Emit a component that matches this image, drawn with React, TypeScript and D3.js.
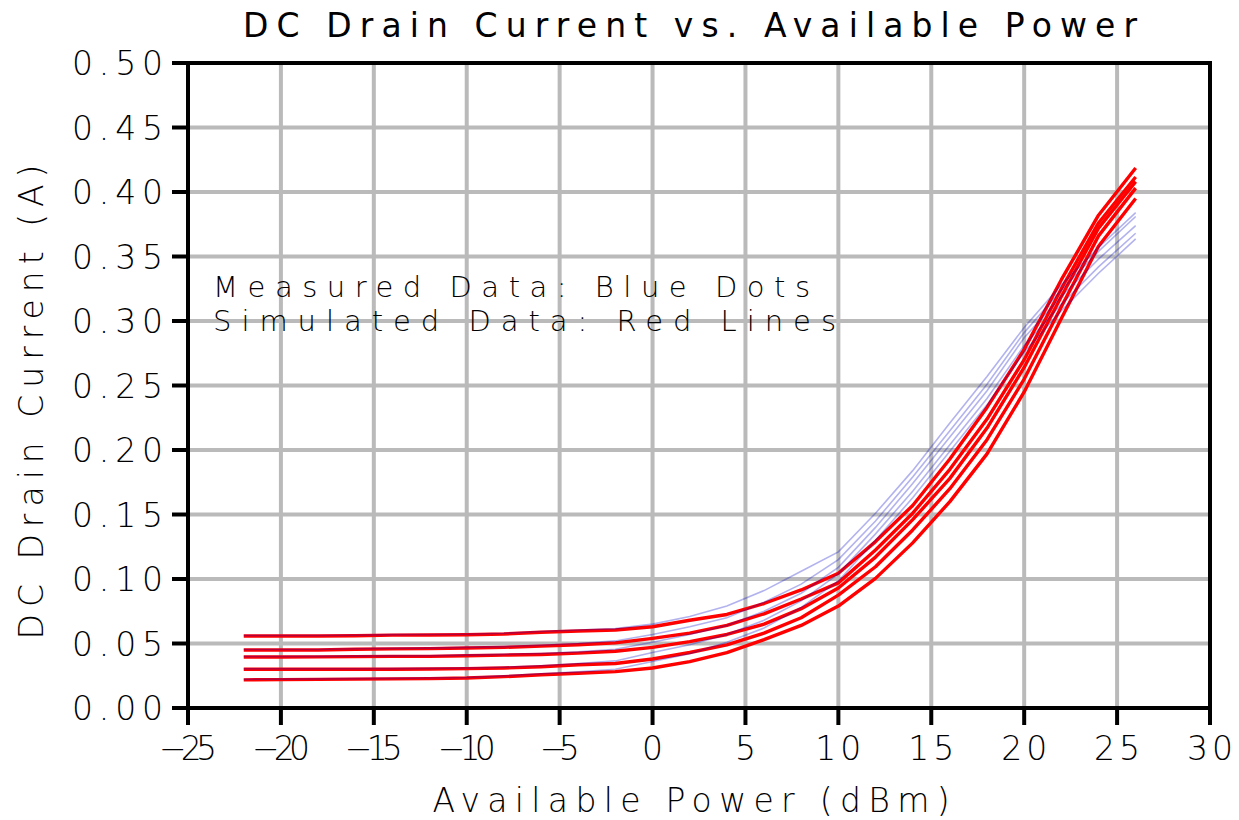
import React from 'react';
import * as d3 from 'd3';

// input power sweep (dBm)
const powerDbm = [-22, -20, -18, -16, -14, -12, -10, -8, -6, -4, -2, 0, 2, 4, 6, 8, 10, 12, 14, 16, 18, 20, 22, 24, 26];

// simulated drain current (A), red lines
const sim1 = [0.0558, 0.0558, 0.0558, 0.056, 0.0565, 0.0566, 0.0568, 0.0574, 0.0587, 0.0597, 0.0605, 0.063, 0.068, 0.0725, 0.081, 0.0915, 0.1045, 0.129, 0.157, 0.193, 0.233, 0.278, 0.332, 0.382, 0.4186];
const sim2 = [0.045, 0.045, 0.045, 0.0455, 0.0458, 0.046, 0.0465, 0.047, 0.048, 0.049, 0.0505, 0.054, 0.058, 0.064, 0.073, 0.0845, 0.097, 0.1225, 0.151, 0.185, 0.224, 0.27, 0.325, 0.376, 0.4116];
const sim3 = [0.0395, 0.0395, 0.0396, 0.0398, 0.04, 0.04, 0.0405, 0.041, 0.0415, 0.0425, 0.044, 0.047, 0.0515, 0.057, 0.065, 0.077, 0.093, 0.117, 0.146, 0.178, 0.217, 0.264, 0.319, 0.372, 0.408];
const sim4 = [0.03, 0.03, 0.03, 0.03, 0.03, 0.0302, 0.0305, 0.031, 0.032, 0.0335, 0.0345, 0.038, 0.043, 0.049, 0.058, 0.07, 0.0875, 0.1095, 0.138, 0.17, 0.208, 0.255, 0.311, 0.366, 0.403];
const sim5 = [0.0218, 0.022, 0.0222, 0.0224, 0.0226, 0.0228, 0.0232, 0.0243, 0.0258, 0.0269, 0.0282, 0.031, 0.036, 0.043, 0.053, 0.064, 0.079, 0.1005, 0.128, 0.16, 0.197, 0.245, 0.302, 0.358, 0.395];

// measured drain current (A), blue traces
const meas1 = [0.0562, 0.0562, 0.0562, 0.0564, 0.0569, 0.057, 0.0572, 0.0579, 0.0593, 0.0605, 0.0615, 0.065, 0.071, 0.079, 0.091, 0.106, 0.121, 0.151, 0.184, 0.221, 0.257, 0.295, 0.328, 0.357, 0.384];
const meas2 = [0.0454, 0.0454, 0.0454, 0.0459, 0.0462, 0.0464, 0.047, 0.0476, 0.0487, 0.05, 0.052, 0.057, 0.063, 0.07, 0.082, 0.096, 0.115, 0.145, 0.179, 0.215, 0.251, 0.291, 0.324, 0.354, 0.381];
const meas3 = [0.0399, 0.0399, 0.04, 0.0402, 0.0404, 0.0405, 0.041, 0.0416, 0.0423, 0.0435, 0.0455, 0.051, 0.057, 0.064, 0.075, 0.089, 0.109, 0.14, 0.174, 0.21, 0.246, 0.287, 0.319, 0.348, 0.374];
const meas4 = [0.0304, 0.0304, 0.0304, 0.0304, 0.0305, 0.0307, 0.031, 0.0316, 0.0328, 0.0345, 0.0365, 0.043, 0.049, 0.057, 0.068, 0.083, 0.104, 0.135, 0.168, 0.204, 0.24, 0.281, 0.313, 0.342, 0.368];
const meas5 = [0.0222, 0.0224, 0.0226, 0.0228, 0.023, 0.0232, 0.0237, 0.0249, 0.0265, 0.028, 0.03, 0.036, 0.042, 0.051, 0.062, 0.078, 0.0985, 0.13, 0.163, 0.199, 0.235, 0.276, 0.308, 0.337, 0.3636];

const simulated = [sim1, sim2, sim3, sim4, sim5];
const measured = [meas1, meas2, meas3, meas4, meas5];

const xTicks = [-25, -20, -15, -10, -5, 0, 5, 10, 15, 20, 25, 30];
const yTicks = [0, 0.05, 0.1, 0.15, 0.2, 0.25, 0.3, 0.35, 0.4, 0.45, 0.5];

const width = 1239;
const height = 820;
const left = 188;
const right = 1210;
const top = 63;
const bottom = 708;
const font = "'DejaVu Sans', 'Liberation Sans', sans-serif";

export default function App() {
  const x = d3.scaleLinear().domain([-25, 30]).range([left, right]);
  const y = d3.scaleLinear().domain([0, 0.5]).range([bottom, top]);

  const line = d3
    .line<number>()
    .x((d, i) => x(powerDbm[i]))
    .y(d => y(d));

  const fmtY = (v: number) => v.toFixed(2);
  const fmtX = (v: number) => (v < 0 ? '\u2212' + Math.abs(v) : String(v));

  return (
    <svg
      width={width}
      height={height}
      style={{ position: 'absolute', left: 0, top: 0, background: '#fff' }}
      fontFamily={font}
    >
      {/* grid */}
      <g stroke="#bababa" strokeWidth={4}>
        {xTicks.slice(1, -1).map(t => (
          <line key={'gx' + t} x1={x(t)} x2={x(t)} y1={top} y2={bottom} />
        ))}
        {yTicks.slice(1, -1).map(t => (
          <line key={'gy' + t} x1={left} x2={right} y1={y(t)} y2={y(t)} />
        ))}
      </g>

      {/* annotation */}
      <g fontSize={29} fill="#000" fontWeight={300}>
        <text x={213} y={297} textLength={597} lengthAdjust="spacing">
          Measured Data: Blue Dots
        </text>
        <text x={213} y={331} textLength={623} lengthAdjust="spacing">
          Simulated Data: Red Lines
        </text>
      </g>

      {/* simulated */}
      <g fill="none" stroke="#ff0000" strokeWidth={3.4} strokeLinejoin="round">
        {simulated.map((s, i) => (
          <path key={'s' + i} d={line(s) || ''} />
        ))}
      </g>
      {/* measured */}
      <g fill="none" stroke="#0000c8" strokeOpacity={0.3} strokeWidth={1.6}>
        {measured.map((s, i) => (
          <path key={'m' + i} d={line(s) || ''} />
        ))}
      </g>

      {/* frame */}
      <rect x={left} y={top} width={right - left} height={bottom - top} fill="none" stroke="#000" strokeWidth={4} />

      {/* ticks */}
      <g stroke="#000" strokeWidth={4}>
        {yTicks.map(t => (
          <line key={'ty' + t} x1={left - 16} x2={left} y1={y(t)} y2={y(t)} />
        ))}
        {xTicks.map(t => (
          <line key={'tx' + t} x1={x(t)} x2={x(t)} y1={bottom} y2={bottom + 17} />
        ))}
      </g>
      <g fontSize={33} fill="#000" fontWeight={300}>
        {yTicks.map(t => (
          <text key={'ly' + t} x={163} y={y(t) + 12} textAnchor="end" textLength={91} lengthAdjust="spacing">
            {fmtY(t)}
          </text>
        ))}
        {xTicks.map(t => (
          <text
            key={'lx' + t}
            x={x(t)}
            y={760}
            textAnchor="middle"
            textLength={t < 0 ? (t > -10 ? 40 : 58) : t < 10 ? 18 : 46}
            lengthAdjust="spacing"
          >
            {fmtX(t)}
          </text>
        ))}
      </g>

      {/* titles */}
      <g fontSize={33} fill="#000">
        <text x={690} y={37} textAnchor="middle" textLength={894} lengthAdjust="spacing">
          DC Drain Current vs. Available Power
        </text>
      </g>
      <g fontSize={33} fill="#000" fontWeight={300}>
        <text x={691} y={812} textAnchor="middle" textLength={517} lengthAdjust="spacing">
          Available Power (dBm)
        </text>
        <text
          transform="translate(43,402) rotate(-90)"
          textAnchor="middle"
          textLength={475}
          lengthAdjust="spacing"
        >
          DC Drain Current (A)
        </text>
      </g>
    </svg>
  );
}
